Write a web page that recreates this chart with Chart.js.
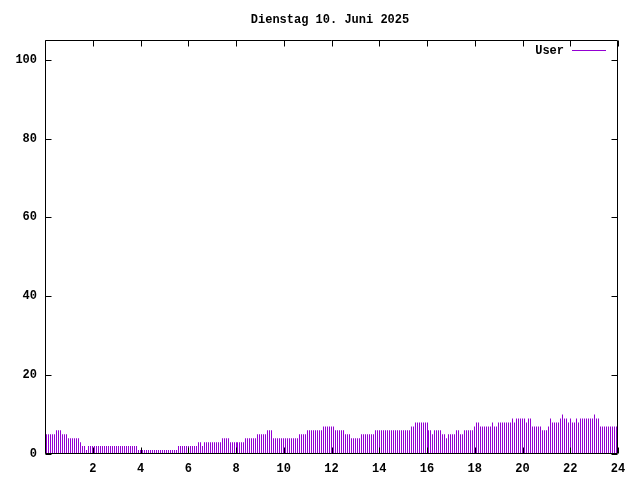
<!DOCTYPE html>
<html><head><meta charset="utf-8">
<script src="https://cdn.jsdelivr.net/npm/chart.js@4"></script>
<style>html,body{margin:0;padding:0;background:#fff}</style>
</head><body>
<canvas id="c" width="640" height="480"></canvas>
<script>
const TITLE = 'Dienstag 10. Juni 2025';
const SERIES_LABEL = 'User';
const X_TICKS = [0, 2, 4, 6, 8, 10, 12, 14, 16, 18, 20, 22, 24];
const X_TICK_LABELS = ['', '2', '4', '6', '8', '10', '12', '14', '16', '18', '20', '22', '24'];
const Y_TICKS = [0, 20, 40, 60, 80, 100];
const STEP_MINUTES = 5;
// one value every 5 minutes, 00:05 .. 24:00
const USER_VALUES = [
  5,5,5,5,5, 6,6,6, 5,5,5, 4,4,4,4,4,4, 3, 2,2, 1,
  2,2,2,2,2,2,2,2,2,2,2,2,2,2,2,2,2,2,2,2,2,2,2,2,2,
  1,1,1,1,1,1,1,1,1,1,1,1,1,1,1,1,1,1,1,1,
  2,2,2,2,2,2,2,2,2,2, 3,3, 2, 3,3,3,3,3,3,3,3,3,
  4,4,4,4, 3,3,3,3,3,3,3,3, 4,4,4,4,4,4, 5,5,5,5,5, 6,6,6,
  4,4,4,4,4,4,4,4,4,4,4,4,4, 5,5,5,5, 6,6,6,6,6,6,6,6,
  7,7,7,7,7,7, 6,6,6,6,6, 5,5,5, 4,4,4,4,4, 5,5,5,5,5,5,5,
  6,6,6,6,6,6,6,6,6,6,6,6,6,6,6,6,6,6, 7,7, 8,8,8,8,8,8,8,
  6,6, 5, 6,6,6,6, 5,5, 4, 5,5,5,5, 6,6, 5,5, 6,6,6,6,6,
  7, 8,8, 7,7,7,7,7,7, 8, 7,7, 8,8,8,8,8,8,8, 9, 8, 9,9,9,9,9,
  8, 9,9, 7,7,7,7,7, 6,6,6, 7, 9, 8,8,8,8, 9, 10, 9,9, 8, 9, 8,8,
  9, 8, 9,9,9,9,9,9,9, 10, 9,9, 7,7,7,7,7,7,7,7,7,7
];
const COLOR = '#9400D3';
const FONT = "'Liberation Mono', 'DejaVu Sans Mono', monospace";

const points = USER_VALUES.map((v, i) => ({ x: (i + 1) * STEP_MINUTES / 60, y: v }));

// snap the library-computed impulse positions to whole pixels (crisp 1px lines)
const snapPlugin = {
  id: 'snap',
  beforeDatasetsDraw(chart) {
    chart.getDatasetMeta(0).data.forEach(el => { el.x = Math.floor(el.x) + 0.5; });
  }
};

const framePlugin = {
  id: 'frame',
  afterDatasetsDraw(chart) {
    const { ctx, chartArea: a, scales: { x, y } } = chart;
    ctx.save();
    ctx.strokeStyle = '#000';
    ctx.lineWidth = 1;
    const L = Math.round(a.left) + 0.5, R = Math.round(a.right) - 0.5;
    const T = Math.round(a.top) + 0.5, B = Math.round(a.bottom) - 0.5;
    ctx.beginPath();
    ctx.rect(L, T, R - L, B - T);
    const tl = 6;
    X_TICKS.forEach(v => {
      const px = Math.round(x.getPixelForValue(v)) + 0.5;
      ctx.moveTo(px, B); ctx.lineTo(px, B - tl);
      ctx.moveTo(px, T); ctx.lineTo(px, T + tl);
    });
    Y_TICKS.forEach(v => {
      const py = Math.round(y.getPixelForValue(v)) + 0.5;
      ctx.moveTo(L, py); ctx.lineTo(L + tl, py);
      ctx.moveTo(R, py); ctx.lineTo(R - tl, py);
    });
    ctx.stroke();
    // title
    ctx.fillStyle = '#000';
    ctx.font = 'bold 12px ' + FONT;
    ctx.textAlign = 'center';
    ctx.textBaseline = 'middle';
    ctx.fillText(TITLE, 330, 20);
    // legend
    ctx.textAlign = 'right';
    ctx.fillText(chart.data.datasets[0].label, 564, 51);
    ctx.strokeStyle = COLOR;
    ctx.beginPath();
    ctx.moveTo(572, 50.5); ctx.lineTo(606, 50.5);
    ctx.stroke();
    ctx.restore();
  }
};

new Chart(document.getElementById('c'), {
  type: 'bar',
  data: {
    datasets: [{
      label: SERIES_LABEL,
      data: points,
      backgroundColor: COLOR,
      borderWidth: 0,
      barThickness: 1,
      inflateAmount: 0,
      grouped: false
    }]
  },
  options: {
    responsive: false,
    animation: false,
    devicePixelRatio: 1,
    layout: { padding: { top: 40, right: 22, left: 0, bottom: 0 } },
    plugins: { legend: { display: false }, title: { display: false }, tooltip: { enabled: false } },
    scales: {
      x: {
        type: 'linear', min: 0, max: 24, offset: false,
        afterBuildTicks: s => { s.ticks = X_TICKS.map(v => ({ value: v })); },
        afterFit: s => { s.height = 26; },
        grid: { display: false, drawTicks: false },
        border: { display: false },
        ticks: {
          autoSkip: false, maxRotation: 0, padding: 8, color: '#000',
          font: { family: FONT, size: 12, weight: 'bold' },
          callback: (v, i) => X_TICK_LABELS[X_TICKS.indexOf(v)] ?? ''
        }
      },
      y: {
        min: 0, max: 105,
        afterBuildTicks: s => { s.ticks = Y_TICKS.map(v => ({ value: v })); },
        afterFit: s => { s.width = 45; },
        grid: { display: false, drawTicks: false },
        border: { display: false },
        ticks: {
          padding: 8, color: '#000',
          font: { family: FONT, size: 12, weight: 'bold' }
        }
      }
    }
  },
  plugins: [snapPlugin, framePlugin]
});
</script>
</body></html>
